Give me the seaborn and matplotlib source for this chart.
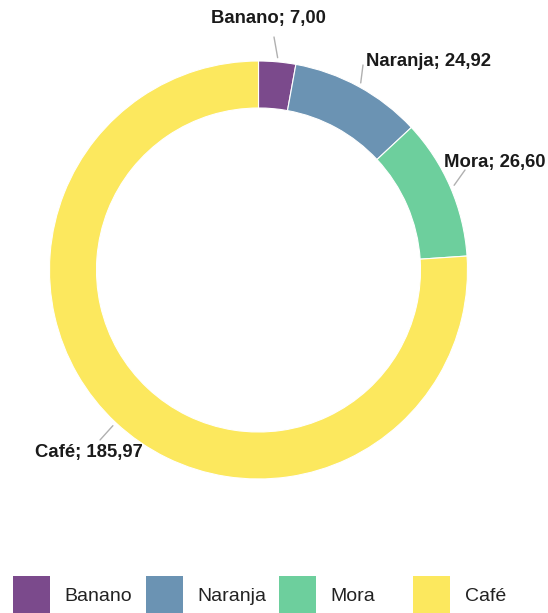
import matplotlib
matplotlib.use("Agg")
import matplotlib.pyplot as plt
import seaborn as sns
import numpy as np
from matplotlib.patches import Patch

# Production values per crop
categories = ["Banano", "Naranja", "Mora", "Café"]
values = [7.00, 24.92, 26.60, 185.97]
colors = ["#7b4a8c", "#6b93b3", "#6dcf9d", "#fce85e"]

sns.set_theme(style="white")
plt.rcParams["font.family"] = ["Liberation Sans", "DejaVu Sans"]

W, H = 548, 613
fig = plt.figure(figsize=(W / 100, H / 100), dpi=100)
fig.patch.set_facecolor("white")

# Ring geometry in pixels
cx, cy, R, ring = 258.5, 270.0, 209.0, 47.0
ax = fig.add_axes([(cx - R) / W, (H - cy - R) / H, 2 * R / W, 2 * R / H])
ax.pie(values, colors=colors, startangle=90, counterclock=False, radius=1,
       wedgeprops=dict(width=ring / R, edgecolor="white", linewidth=0.8))
ax.set_xlim(-1, 1)
ax.set_ylim(-1, 1)
ax.set_aspect("equal")
ax.axis("off")


def px(x, y):
    return (x - cx) / R, (cy - y) / R


# Label anchors, leader ends (pixel positions) and alignment
anchors = [((268, 18), (274, 37), "center"),
           ((366, 62), (363, 65), "left"),
           ((444, 163), (465, 170), "left"),
           ((35, 452), (100, 440), "left")]

total = sum(values)
cum = np.cumsum(values)
for cat, v, c, (pos, end, ha) in zip(categories, values, cum, anchors):
    mid = np.deg2rad(90 - 360 * (c - v / 2) / total)
    r0 = 1.02
    ex, ey = px(*end)
    ax.plot([r0 * np.cos(mid), ex], [r0 * np.sin(mid), ey],
            color="#b0b0b0", lw=1.0, clip_on=False)
    label = f"{cat}; {v:.2f}".replace(".", ",")
    tx, ty = px(*pos)
    ax.text(tx, ty, label, ha=ha, va="center", fontsize=13.3, fontweight="bold",
            color="#1a1a1a", clip_on=False)

# Legend: one entry per fixed-width slot along the bottom
slot_x = [13, 146, 279, 413]
for cat, col, x0 in zip(categories, colors, slot_x):
    leg = fig.legend(handles=[Patch(facecolor=col, edgecolor="none", label=cat)],
                     loc="upper left", bbox_to_anchor=(x0 / W, 1 - 576 / H),
                     frameon=False, fontsize=14, handlelength=1.9, handleheight=2.7,
                     handletextpad=0.75, borderpad=0, borderaxespad=0,
                     labelcolor="#222222")

fig.savefig("out.png", dpi=100, facecolor="white")
